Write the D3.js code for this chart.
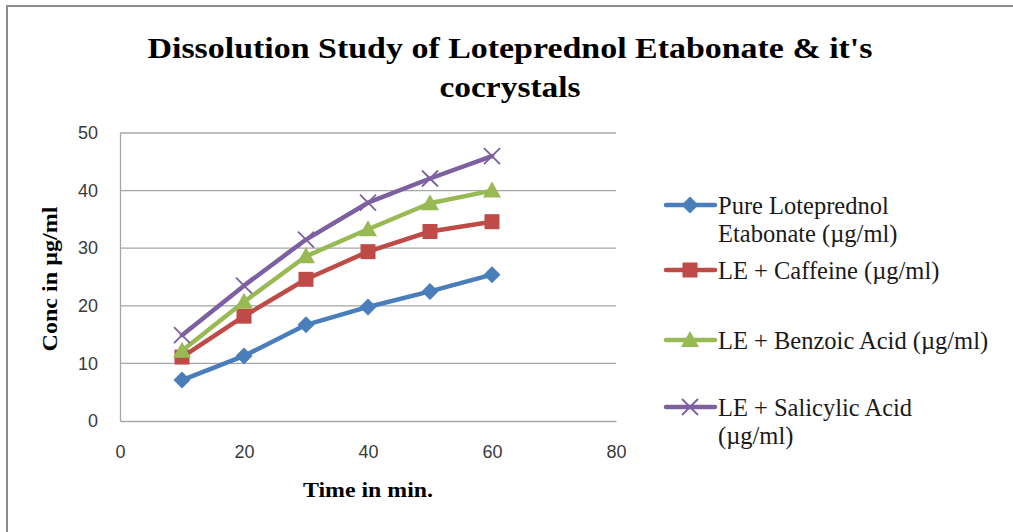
<!DOCTYPE html>
<html lang="en">
<head>
    <meta charset="UTF-8">
    <title>Dissolution Study</title>
    <script src="https://d3js.org/d3.v7.min.js"></script>
</head>
<style>
    body {
        margin: 0;
        padding: 0;
        background: #fff;
    }
    svg {
        display: block;
    }
    .tick text {
        font-family: "Liberation Sans", Arial, sans-serif;
        font-size: 18px;
        fill: #3a3a3a;
    }
</style>
<body>
<div class="chart"></div>
<script>
  /** DATA */
  var times = [10, 20, 30, 40, 50, 60];
  var pureLE = [7.1, 11.3, 16.7, 19.8, 22.5, 25.4];
  var leCaffeine = [11.1, 18.2, 24.6, 29.4, 32.9, 34.6];
  var leBenzoic = [12.2, 20.7, 28.6, 33.3, 37.8, 40.0];
  var leSalicylic = [14.9, 23.5, 31.5, 37.9, 42.1, 46.0];
  var seriesNames = [
    ['Pure Loteprednol', 'Etabonate (\u00b5g/ml)'],
    ['LE + Caffeine (\u00b5g/ml)'],
    ['LE + Benzoic Acid (\u00b5g/ml)'],
    ['LE + Salicylic Acid', '(\u00b5g/ml)']
  ];
  var xTicks = [0, 20, 40, 60, 80];
  var yTicks = [0, 10, 20, 30, 40, 50];

  var seriesColors = ['#4a7ebb', '#be4b48', '#98b954', '#7d60a0'];
  var seriesShapes = ['diamond', 'square', 'triangle', 'cross'];
  var seriesValues = [pureLE, leCaffeine, leBenzoic, leSalicylic];

  /** LAYOUT */
  var width = 1013, height = 532;
  var plotLeft = 120, plotRight = 616, plotTop = 133, plotBottom = 421;

  var svg = d3.select('.chart').append('svg')
    .attr('width', width)
    .attr('height', height);

  svg.append('rect').attr('width', width).attr('height', height).attr('fill', '#fff');

  // outer chart border (only top & left are visible in the frame)
  svg.append('path')
    .attr('d', 'M7,' + height + 'V6H' + width)
    .attr('fill', 'none')
    .attr('stroke', '#8c8c8c')
    .attr('stroke-width', 2);

  var x = d3.scaleLinear().domain([0, 80]).range([plotLeft, plotRight]);
  var y = d3.scaleLinear().domain([0, 50]).range([plotBottom, plotTop]);

  /** gridlines */
  svg.append('g')
    .selectAll('line')
    .data(yTicks.filter(function (d) { return d > 0; }))
    .enter().append('line')
    .attr('x1', plotLeft).attr('x2', plotRight)
    .attr('y1', function (d) { return y(d); })
    .attr('y2', function (d) { return y(d); })
    .attr('stroke', '#a6a6a6')
    .attr('stroke-width', 1.3);

  /** axes */
  var xAxis = svg.append('g')
    .attr('transform', 'translate(0,' + plotBottom + ')')
    .call(d3.axisBottom(x).tickValues(xTicks).tickSize(0).tickPadding(24));
  var yAxis = svg.append('g')
    .attr('transform', 'translate(' + plotLeft + ',0)')
    .call(d3.axisLeft(y).tickValues(yTicks).tickSize(0).tickPadding(22));
  [xAxis, yAxis].forEach(function (ax) {
    ax.select('.domain').attr('stroke', '#a6a6a6').attr('stroke-width', 1.3);
  });

  /** series lines */
  var line = d3.line()
    .x(function (d, i) { return x(times[i]); })
    .y(function (d) { return y(d); });

  function drawMarker(g, shape, color, cx, cy) {
    if (shape === 'diamond') {
      g.append('path').attr('d', 'M' + cx + ',' + (cy - 8.5) + 'L' + (cx + 8.5) + ',' + cy +
        'L' + cx + ',' + (cy + 8.5) + 'L' + (cx - 8.5) + ',' + cy + 'Z')
        .attr('fill', color);
    } else if (shape === 'square') {
      g.append('rect').attr('x', cx - 7.5).attr('y', cy - 7.5)
        .attr('width', 15).attr('height', 15).attr('fill', color);
    } else if (shape === 'triangle') {
      g.append('path').attr('d', 'M' + cx + ',' + (cy - 9) + 'L' + (cx + 9) + ',' + (cy + 7) + 'L' + (cx - 9) + ',' + (cy + 7) + 'Z')
        .attr('fill', color);
    } else {
      g.append('path').attr('d', 'M' + (cx - 8) + ',' + (cy - 8) + 'L' + (cx + 8) + ',' + (cy + 8) +
        'M' + (cx - 8) + ',' + (cy + 8) + 'L' + (cx + 8) + ',' + (cy - 8))
        .attr('stroke', color).attr('stroke-width', 1.8).attr('fill', 'none');
    }
  }

  seriesValues.forEach(function (vals, s) {
    var g = svg.append('g');
    g.append('path')
      .datum(vals)
      .attr('d', line)
      .attr('fill', 'none')
      .attr('stroke', seriesColors[s])
      .attr('stroke-width', 4.5)
      .attr('stroke-linejoin', 'round')
      .attr('stroke-linecap', 'round');
    vals.forEach(function (v, i) {
      drawMarker(g, seriesShapes[s], seriesColors[s], x(times[i]), y(v));
    });
  });

  /** titles */
  var serif = '"Liberation Serif", "Times New Roman", serif';
  var title = svg.append('g')
    .attr('font-family', serif)
    .attr('font-weight', 'bold')
    .attr('font-size', 30)
    .attr('text-anchor', 'middle')
    .attr('fill', '#000');
  title.append('text').attr('x', 510).attr('y', 58)
    .attr('textLength', 725).attr('lengthAdjust', 'spacingAndGlyphs')
    .text("Dissolution Study of Loteprednol Etabonate & it's");
  title.append('text').attr('x', 510).attr('y', 97)
    .attr('textLength', 141).attr('lengthAdjust', 'spacingAndGlyphs')
    .text('cocrystals');

  svg.append('text')
    .attr('x', 368).attr('y', 497)
    .attr('text-anchor', 'middle')
    .attr('font-family', serif).attr('font-weight', 'bold').attr('font-size', 21)
    .attr('textLength', 130).attr('lengthAdjust', 'spacingAndGlyphs')
    .text('Time in min.');

  svg.append('text')
    .attr('transform', 'translate(57,279) rotate(-90)')
    .attr('text-anchor', 'middle')
    .attr('font-family', serif).attr('font-weight', 'bold').attr('font-size', 21)
    .attr('textLength', 145).attr('lengthAdjust', 'spacingAndGlyphs')
    .text('Conc in \u00b5g/ml');

  /** legend */
  var legendRowY = [205, 270, 340, 407];
  var legend = svg.append('g').attr('font-family', serif).attr('font-size', 24.5);
  seriesNames.forEach(function (lines, s) {
    var ly = legendRowY[s];
    var item = legend.append('g');
    item.append('line')
      .attr('x1', 666).attr('x2', 715)
      .attr('y1', ly).attr('y2', ly)
      .attr('stroke', seriesColors[s]).attr('stroke-width', 4.5)
      .attr('stroke-linecap', 'round');
    drawMarker(item, seriesShapes[s], seriesColors[s], 690, ly);
    lines.forEach(function (t, k) {
      item.append('text')
        .attr('x', 718).attr('y', ly + k * 28)
        .attr('dy', '0.35em')
        .attr('fill', '#1a1a1a')
        .text(t);
    });
  });
</script>
</body>
</html>
